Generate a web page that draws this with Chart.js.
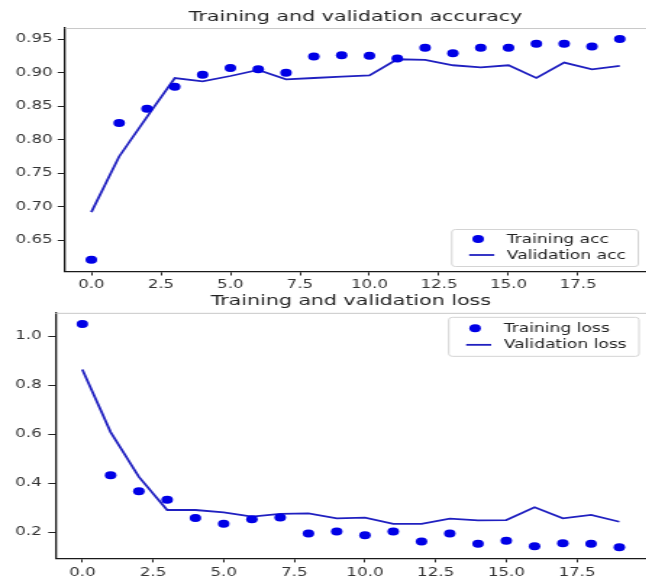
<!DOCTYPE html>
<html>
<head>
<meta charset="utf-8">
<script src="https://cdn.jsdelivr.net/npm/chart.js@4/dist/chart.umd.min.js"></script>
<style>
  html,body{margin:0;padding:0;background:#fff;overflow:hidden;width:646px;height:580px;}
  canvas{position:absolute;left:0;}
</style>
</head>
<body>
<canvas id="accChart" width="450" height="290" style="top:0;width:652px;height:290px"></canvas>
<canvas id="lossChart" width="450" height="294" style="top:286px;width:652px;height:294px"></canvas>
<script>
// epochs and history values
const epochs=[0,1,2,3,4,5,6,7,8,9,10,11,12,13,14,15,16,17,18,19];
const trainAcc=[0.621,0.825,0.846,0.879,0.897,0.907,0.905,0.900,0.924,0.926,0.925,0.921,0.937,0.929,0.937,0.937,0.943,0.943,0.939,0.950];
const valAcc=[0.692,0.775,0.834,0.892,0.887,0.895,0.904,0.890,0.892,0.894,0.896,0.920,0.919,0.911,0.908,0.911,0.892,0.915,0.905,0.910];
const trainLoss=[1.050,0.433,0.368,0.333,0.258,0.235,0.253,0.260,0.195,0.203,0.188,0.203,0.162,0.195,0.153,0.166,0.143,0.155,0.153,0.139];
const valLoss=[0.864,0.609,0.426,0.291,0.291,0.281,0.264,0.275,0.277,0.257,0.260,0.234,0.234,0.256,0.249,0.250,0.302,0.257,0.271,0.243];

const xTicks=[0,2.5,5,7.5,10,12.5,15,17.5];
const accTicks=[0.65,0.70,0.75,0.80,0.85,0.90,0.95];
const lossTicks=[0.2,0.4,0.6,0.8,1.0];

Chart.defaults.font.family="'DejaVu Sans', sans-serif";
Chart.defaults.color='#333';

const pts=(ys)=>epochs.map((e,i)=>({x:e,y:ys[i]}));

// top spine (light) and the legend box
const framePlugin={
  id:'frame',
  afterDraw(chart,args,opts){
    const ctx=chart.ctx, a=chart.chartArea;
    ctx.save();
    ctx.strokeStyle='#c8c8c8';
    ctx.lineWidth=1;
    ctx.beginPath();
    ctx.moveTo(a.left,a.top+0.5);
    ctx.lineTo(a.right,a.top+0.5);
    ctx.stroke();

    // legend
    ctx.font="11.8px 'DejaVu Sans'";
    const sets=chart.data.datasets;
    let tw=0;
    sets.forEach(d=>{tw=Math.max(tw,ctx.measureText(d.label).width)});
    const w=38.5+tw+8, h=opts.h;
    const bx=a.right-opts.right-w;
    const by=opts.top!=null ? a.top+opts.top : a.bottom-opts.bottom-h;
    ctx.fillStyle='rgba(255,255,255,0.85)';
    ctx.strokeStyle='#d4d4d4';
    ctx.beginPath();
    ctx.roundRect(bx+0.5,by+0.5,w,h,2.5);
    ctx.fill();ctx.stroke();
    sets.forEach((d,i)=>{
      const ry=by+opts.rows[i];
      if(d.showLine===false){
        ctx.fillStyle=d.pointBackgroundColor;
        ctx.beginPath();
        ctx.arc(bx+18.7,ry,4,0,Math.PI*2);
        ctx.fill();
      }else{
        ctx.strokeStyle=d.borderColor;
        ctx.lineWidth=d.borderWidth;
        ctx.beginPath();
        ctx.moveTo(bx+12.5,ry);
        ctx.lineTo(bx+29.8,ry);
        ctx.stroke();
      }
      ctx.fillStyle='#222';
      ctx.textBaseline='middle';
      ctx.fillText(d.label,bx+38.5,ry+0.5);
    });
    ctx.restore();
  }
};

function makeChart(id,cfg){
  return new Chart(document.getElementById(id),{
    type:'scatter',
    data:{datasets:[
      {label:cfg.trainLabel,data:pts(cfg.train),showLine:false,pointRadius:4,pointHoverRadius:4,
       pointBackgroundColor:'#0000e6',pointBorderWidth:0,borderColor:'#0000e6'},
      {label:cfg.valLabel,data:pts(cfg.val),showLine:true,pointRadius:0,borderColor:'#2020c0',
       borderWidth:1.8,tension:0}
    ]},
    options:{
      responsive:false,
      maintainAspectRatio:false,
      animation:false,
      layout:{padding:{left:0,right:cfg.padRight,top:0,bottom:0}},
      plugins:{
        legend:{display:false},
        tooltip:{enabled:false},
        title:{display:true,text:cfg.title,fullSize:false,color:'#222',
          font:{size:14.2,weight:'normal'},padding:cfg.titlePad},
        frame:cfg.legend
      },
      scales:{
        x:{type:'linear',min:-0.95,max:19.95,
          afterBuildTicks:s=>{s.ticks=xTicks.map(v=>({value:v}))},
          afterFit:s=>{s.height=cfg.xHeight},
          ticks:{callback:v=>v.toFixed(1),font:{size:11.5},padding:cfg.xPad,maxRotation:0,autoSkip:false},
          grid:{display:true,drawOnChartArea:false,drawTicks:true,tickLength:4,color:'#222'},
          border:{display:true,color:'#1a1a1a',width:1.3}},
        y:{type:'linear',min:cfg.yMin,max:cfg.yMax,
          afterBuildTicks:s=>{s.ticks=cfg.yTicks.map(v=>({value:v}))},
          afterFit:s=>{s.width=cfg.yWidth},
          ticks:{callback:v=>v.toFixed(cfg.dec),font:{size:11.5},padding:cfg.yPad,autoSkip:false},
          grid:{display:true,drawOnChartArea:false,drawTicks:true,tickLength:5,color:'#222'},
          border:{display:true,color:'#1a1a1a',width:1.3}}
      }
    },
    plugins:[framePlugin]
  });
}

makeChart('accChart',{
  title:'Training and validation accuracy',
  trainLabel:'Training acc',valLabel:'Validation acc',
  train:trainAcc,val:valAcc,
  yMin:0.6035,yMax:0.9665,yTicks:accTicks,dec:2,
  yWidth:44.8,xHeight:18.5,padRight:2,
  titlePad:{top:8.4,bottom:2.6},xPad:3,yPad:3.5,
  legend:{right:6,bottom:5.5,h:37,rows:[10,26]}
});

makeChart('lossChart',{
  title:'Training and validation loss',
  trainLabel:'Training loss',valLabel:'Validation loss',
  train:trainLoss,val:valLoss,
  yMin:0.0935,yMax:1.0956,yTicks:lossTicks,dec:1,
  yWidth:38.3,xHeight:21.6,padRight:3.8,
  titlePad:{top:6.6,bottom:3.2},xPad:3.5,yPad:4.5,
  legend:{right:5.5,top:4,h:39,rows:[11.5,28]}
});
</script>
</body>
</html>
